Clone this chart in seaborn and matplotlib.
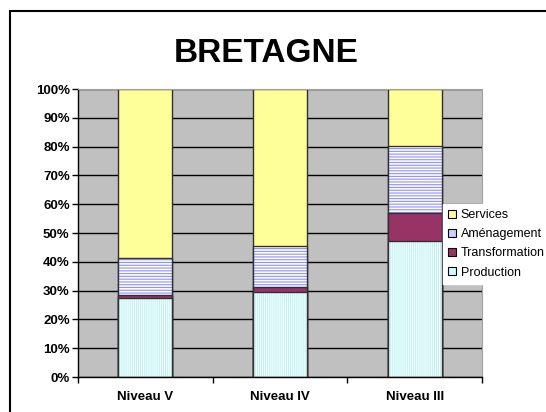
import matplotlib
matplotlib.use("Agg")
import matplotlib.pyplot as plt
import matplotlib.patches as mpatches
import numpy as np
import pandas as pd
import seaborn as sns

categories = ["Niveau V", "Niveau IV", "Niveau III"]
production = [27.3, 29.6, 47.3]
transformation = [1.2, 1.8, 9.5]
amenagement = [12.9, 14.0, 23.4]
services = [58.6, 54.6, 19.8]
yticks = list(range(0, 101, 10))

sns.set_style("white")
plt.rcParams.update({'font.family': ['Liberation Sans', 'DejaVu Sans'],
                     'hatch.linewidth': 0.8,
                     'text.color': 'black',
                     'xtick.color': 'black',
                     'ytick.color': 'black'})

df = pd.DataFrame({"niveau": categories,
                   "Production": production,
                   "Transformation": transformation,
                   "Aménagement": amenagement,
                   "Services": services})
order = ["Production", "Transformation", "Aménagement", "Services"]
cum = df[order].cumsum(axis=1)
cum["niveau"] = df["niveau"]

# colour, hatch colour, hatch pattern per series
styles = {"Services": ("#FFFF99", None, None),
          "Aménagement": ("white", "#8F8FFF", "-" * 6),
          "Transformation": ("#993366", None, None),
          "Production": ("white", "#BDF3F3", "|" * 8)}

fig = plt.figure(figsize=(5.46, 4.12), dpi=100)
ax = fig.add_axes([78 / 546, 1 - 377 / 412, 404 / 546, 288 / 412])
ax.set_facecolor("#C0C0C0")

for name in order[::-1]:
    face, hcol, hatch = styles[name]
    if hatch:
        sns.barplot(data=cum, x="niveau", y=name, order=categories, ax=ax,
                    color=face, edgecolor=hcol, linewidth=0, hatch=hatch,
                    width=0.4, errorbar=None, saturation=1)
    else:
        sns.barplot(data=cum, x="niveau", y=name, order=categories, ax=ax,
                    color=face, linewidth=0, width=0.4, errorbar=None,
                    saturation=1)
    sns.barplot(data=cum, x="niveau", y=name, order=categories, ax=ax,
                fill=False, color="#303030", linewidth=1.0, width=0.4,
                errorbar=None)

ax.set_xlim(-0.5, 2.5)
ax.set_ylim(0, 100)
ax.set_axisbelow(True)
ax.yaxis.grid(True, color="black", linewidth=1.0)
ax.set_yticks(yticks)
ax.set_yticklabels([f"{v}%" for v in yticks], fontsize=9.5, fontweight="bold")
ax.set_xticks(range(len(categories)))
ax.set_xticklabels(categories, fontsize=9.5, fontweight="bold")
ax.set_xticks([-0.5, 0.5, 1.5, 2.5], minor=True)
ax.tick_params(axis="x", which="major", length=0, pad=10)
ax.tick_params(axis="x", which="minor", length=4, width=1, color="black",
               direction="out", bottom=True)
ax.tick_params(axis="y", length=4, width=1, color="black", direction="out",
               left=True, pad=2)
ax.set_xlabel("")
ax.set_ylabel("")
for s in ["left", "bottom"]:
    ax.spines[s].set_color("black")
    ax.spines[s].set_linewidth(1.0)
for s in ["top", "right"]:
    ax.spines[s].set_color("#A0A0A0")
    ax.spines[s].set_linewidth(0.8)

handles = [mpatches.Patch(facecolor="#FFFF99", edgecolor="black", lw=0.8, label="Services"),
           mpatches.Patch(facecolor="#CCCCFF", edgecolor="black", lw=0.8, label="Aménagement"),
           mpatches.Patch(facecolor="#993366", edgecolor="black", lw=0.8, label="Transformation"),
           mpatches.Patch(facecolor="#CCFFFF", edgecolor="black", lw=0.8, label="Production")]
leg = fig.legend(handles=handles, loc="upper left",
                 bbox_to_anchor=(443 / 546, 1 - 204 / 412), fontsize=9,
                 frameon=True, fancybox=False, edgecolor="white",
                 framealpha=1, handlelength=0.6, handleheight=0.6,
                 handletextpad=0.4, labelspacing=0.58, borderpad=0.4,
                 borderaxespad=0)

fig.text(266 / 546, 1 - 62 / 412, "BRETAGNE", ha="center", va="baseline",
         fontsize=24, fontweight="bold")

frame = mpatches.Rectangle((10 / 546, -0.1), 1.0, 1.1 - 11 / 412,
                           transform=fig.transFigure, fill=False,
                           edgecolor="black", linewidth=1.5, clip_on=False)
fig.patches.append(frame)

fig.savefig("out.png", dpi=100)
